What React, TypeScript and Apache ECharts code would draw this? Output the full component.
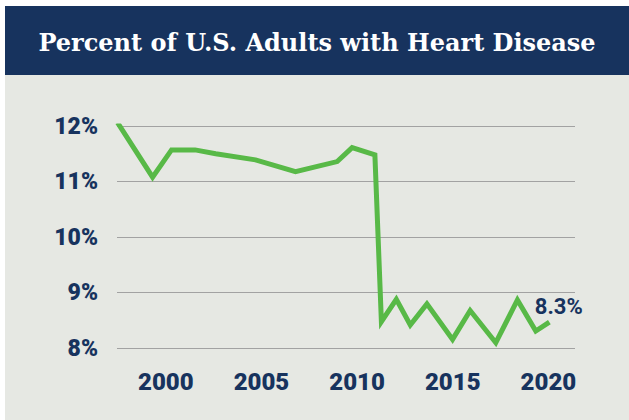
import React, { useEffect, useRef } from "react";
import * as echarts from "echarts";

const TITLE = "Percent of U.S. Adults with Heart Disease";
const years = [1997.48, 1999.31, 2000.3, 2001.53, 2002.61, 2004.69, 2006.78, 2008.96, 2009.74, 2010.93, 2011.27, 2012.05, 2012.78, 2013.65, 2014.99, 2015.91, 2017.25, 2018.38, 2019.34, 2020.05];
const values = [12.06, 11.08, 11.57, 11.57, 11.5, 11.39, 11.18, 11.36, 11.61, 11.48, 8.48, 8.88, 8.42, 8.8, 8.16, 8.68, 8.1, 8.87, 8.31, 8.47];
const xTickYears = [2000, 2005, 2010, 2015, 2020];
const annotatedIndex = 18;

const NAVY = "#17335e";
const GREEN = "#58b947";
const BG = "#e6e8e3";

export default function App() {
  const ref = useRef<HTMLDivElement>(null);
  useEffect(() => {
    if (!ref.current) return;
    const chart = echarts.init(ref.current, null, { renderer: "svg" });
    const data = years.map((y, i) => [y, values[i]]);
    chart.setOption({
      animation: false,
      backgroundColor: "#ffffff",
      graphic: [
        { type: "rect", z: -10, shape: { x: 5, y: 75, width: 624, height: 345 }, style: { fill: BG } },
        { type: "rect", z: -10, shape: { x: 5, y: 6, width: 624, height: 69 }, style: { fill: NAVY } },
        {
          type: "text",
          x: 317,
          y: 42,
          style: {
            text: TITLE,
            fill: "#ffffff",
            font: "bold 24px 'DejaVu Serif'",
            textAlign: "center",
            textVerticalAlign: "middle",
          },
        },
      ],
      grid: { left: 117, right: 54, top: 126, bottom: 71.7 },
      xAxis: {
        type: "value",
        min: 1997.45,
        max: 2021.39,
        axisLine: { show: false },
        axisTick: { show: false },
        splitLine: { show: false },
        axisLabel: {
          customValues: xTickYears,
          formatter: (v: number) => String(v),
          color: NAVY,
          fontFamily: "Roboto",
          fontWeight: 900,
          fontSize: 24,
          margin: 22,
        },
      },
      yAxis: {
        type: "value",
        min: 8,
        max: 12,
        interval: 1,
        axisLine: { show: false },
        axisTick: { show: false },
        splitLine: { show: true, lineStyle: { color: "#a2a2a2", width: 1.2 } },
        axisLabel: {
          formatter: "{value}%",
          color: NAVY,
          fontFamily: "Roboto",
          fontWeight: 900,
          fontSize: 23,
          margin: 19,
        },
      },
      series: [
        {
          type: "line",
          data,
          showSymbol: false,
          symbol: "none",
          lineStyle: { color: GREEN, width: 5, join: "miter" },
          markPoint: {
            symbol: "circle",
            symbolSize: 1,
            itemStyle: { color: "rgba(0,0,0,0)" },
            data: [{ coord: data[annotatedIndex], value: values[annotatedIndex] }],
            label: {
              show: true,
              position: "inside",
              offset: [23, -25],
              formatter: (p: any) => Number(p.value).toFixed(1) + "%",
              color: NAVY,
              fontFamily: "Roboto",
              fontWeight: "bold",
              fontSize: 22,
            },
          },
        },
      ],
    });
    return () => chart.dispose();
  }, []);
  return (
    <div
      ref={ref}
      style={{ position: "fixed", left: 0, top: 0, width: 629, height: 420 }}
    />
  );
}
